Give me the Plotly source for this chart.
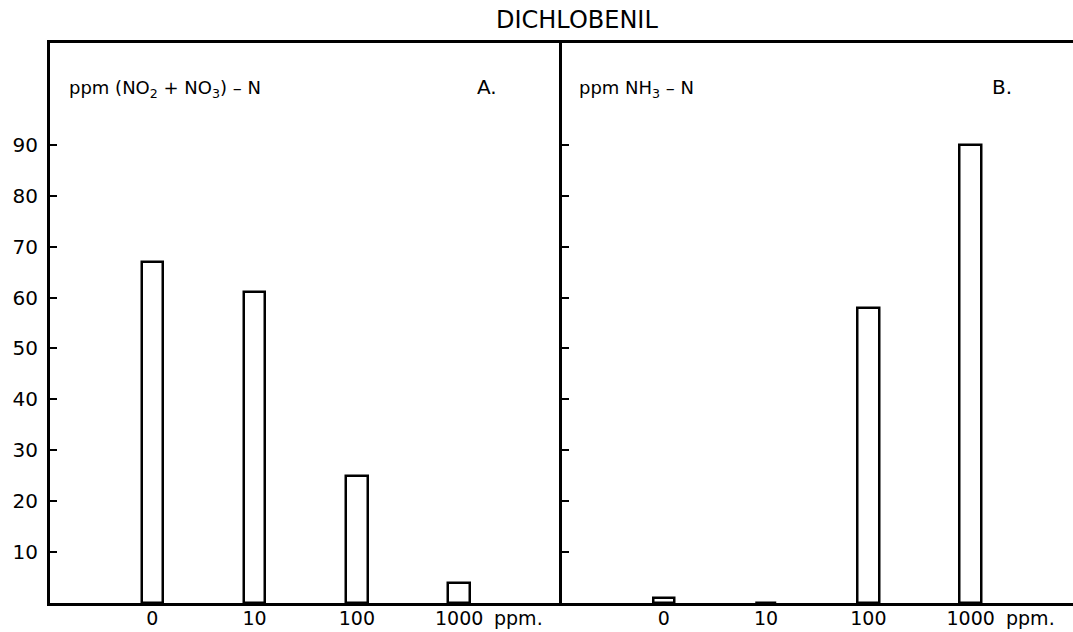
import plotly.graph_objects as go

categories = ["0", "10", "100", "1000"]
nitrate_values = [67, 61, 25, 4]      # panel A: ppm (NO2 + NO3) - N
ammonia_values = [1, 0, 58, 90]       # panel B: ppm NH3 - N
y_ticks = [10, 20, 30, 40, 50, 60, 70, 80, 90]
title_text = "DICHLOBENIL"

pos = list(range(1, len(categories) + 1))
FONT = "DejaVu Sans"
TS = 19

fig = go.Figure()
bar_style = dict(marker=dict(color="white", line=dict(color="black", width=2.5)),
                 width=0.21, showlegend=False, hoverinfo="skip")
fig.add_trace(go.Bar(x=pos, y=nitrate_values, xaxis="x", yaxis="y", **bar_style))
fig.add_trace(go.Bar(x=pos, y=ammonia_values, xaxis="x2", yaxis="y2", **bar_style))

xcommon = dict(range=[0, 5], tickvals=pos, ticktext=categories, ticks="",
               showline=True, linecolor="black", linewidth=3, mirror=True,
               showgrid=False, zeroline=False, fixedrange=True, automargin=False,
               ticklabelstandoff=-4,
               tickfont=dict(family=FONT, size=TS, color="black"))
ycommon = dict(range=[0, 110], tickvals=y_ticks, ticks="inside", ticklen=7,
               tickwidth=2, tickcolor="black", showline=True, linecolor="black",
               linewidth=3, showgrid=False, zeroline=False, fixedrange=True,
               automargin=False,
               tickfont=dict(family=FONT, size=20, color="black"))

fig.update_layout(
    width=1073, height=632,
    margin=dict(l=50, r=0, t=43, b=29, autoexpand=False),
    plot_bgcolor="white", paper_bgcolor="white",
    bargap=0,
    xaxis=dict(domain=[0, 0.5], anchor="y", **xcommon),
    xaxis2=dict(domain=[0.5, 1], anchor="y2", **xcommon),
    yaxis=dict(anchor="x", ticklabelstandoff=5, **ycommon),
    yaxis2=dict(anchor="x2", matches="y", showticklabels=False, **ycommon),
)

ann_font = dict(family=FONT, size=18, color="black")
annotations = [
    dict(text=title_text, xref="paper", yref="paper", x=0.515, y=1.0, yshift=23,
         xanchor="center", yanchor="middle", showarrow=False,
         font=dict(family=FONT, size=24, color="black")),
    dict(text="ppm (NO<sub>2</sub> + NO<sub>3</sub>) – N", xref="x domain", yref="y domain",
         x=0.033, y=0.918, xanchor="left", yanchor="middle", showarrow=False, font=ann_font),
    dict(text="A.", xref="x domain", yref="y domain", x=0.83, y=0.922,
         xanchor="left", yanchor="middle", showarrow=False,
         font=dict(family=FONT, size=20, color="black")),
    dict(text="ppm NH<sub>3</sub> – N", xref="x2 domain", yref="y2 domain",
         x=0.03, y=0.918, xanchor="left", yanchor="middle", showarrow=False, font=ann_font),
    dict(text="B.", xref="x2 domain", yref="y2 domain", x=0.837, y=0.922,
         xanchor="left", yanchor="middle", showarrow=False,
         font=dict(family=FONT, size=20, color="black")),
]
for xr in ["x", "x2"]:
    annotations.append(dict(text="ppm.", xref=xr, yref="paper", x=pos[-1], y=0,
                            xshift=33, yshift=-15, xanchor="left", yanchor="middle",
                            showarrow=False, font=dict(family=FONT, size=TS, color="black")))
fig.update_layout(annotations=annotations)

fig.write_html("out.html")
